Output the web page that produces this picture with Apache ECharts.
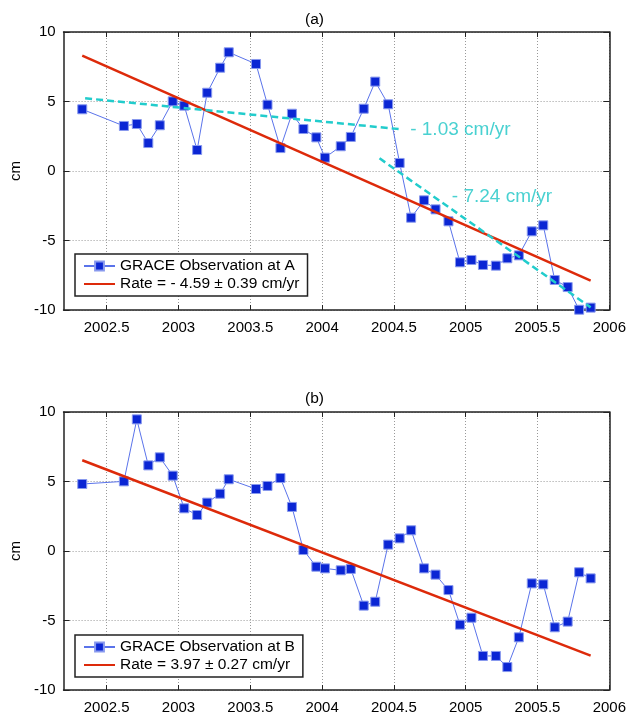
<!DOCTYPE html>
<html>
<head>
<meta charset="utf-8">
<script src="https://cdn.jsdelivr.net/npm/echarts@6/dist/echarts.min.js"></script>
<style>body{margin:0;background:#fff;}</style>
</head>
<body>
<div id="main" style="width:629px;height:719px;"></div>
<script>
// sample times (decimal year), shared by both panels
var times = [2002.33, 2002.62, 2002.71, 2002.79, 2002.87, 2002.96, 2003.04, 2003.13, 2003.20, 2003.29,
             2003.35, 2003.54, 2003.62, 2003.71, 2003.79, 2003.87, 2003.96, 2004.02, 2004.13, 2004.20,
             2004.29, 2004.37, 2004.46, 2004.54, 2004.62, 2004.71, 2004.79, 2004.88, 2004.96, 2005.04,
             2005.12, 2005.21, 2005.29, 2005.37, 2005.46, 2005.54, 2005.62, 2005.71, 2005.79, 2005.87];
// GRACE observations (cm)
var obsA = [4.44, 3.24, 3.38, 2.01, 3.29, 5.01, 4.70, 1.51, 5.63, 7.43,
            8.54, 7.70, 4.77, 1.65, 4.12, 3.02, 2.42, 0.96, 1.78, 2.45,
            4.48, 6.43, 4.80, 0.58, -3.36, -2.11, -2.76, -3.62, -6.57, -6.40,
            -6.76, -6.81, -6.28, -6.07, -4.34, -3.91, -7.84, -8.35, -9.98, -9.83];
var obsB = [4.82, 5.01, 9.47, 6.16, 6.74, 5.42, 3.07, 2.59, 3.48, 4.12,
            5.16, 4.46, 4.68, 5.25, 3.17, 0.07, -1.13, -1.25, -1.39, -1.29,
            -3.93, -3.65, 0.46, 0.91, 1.49, -1.25, -1.70, -2.81, -5.30, -4.80,
            -7.55, -7.55, -8.35, -6.21, -2.33, -2.40, -5.49, -5.08, -1.53, -1.97];
// fitted rate lines (end points)
var fitA = [[2002.33, 8.30], [2005.87, -7.89]];
var fitB = [[2002.33, 6.53], [2005.87, -7.53]];
// partial trends in panel (a)
var trendA1 = [[2002.35, 5.23], [2004.55, 3.00]];
var trendA2 = [[2004.40, 0.91], [2005.87, -9.81]];
var trendNotes = [
    { name: '- 1.03 cm/yr', value: [2004.61, 2.95] },
    { name: '- 7.24 cm/yr', value: [2004.90, -1.88] }
];
var xTicks = [2002.5, 2003, 2003.5, 2004, 2004.5, 2005, 2005.5, 2006];

var nameObsA = 'GRACE Observation at A';
var nameFitA = 'Rate = - 4.59 ± 0.39 cm/yr';
var nameObsB = 'GRACE Observation at B';
var nameFitB = 'Rate = 3.97 ± 0.27 cm/yr';

var frame = { color: '#222', width: 1.5 };
var grid = { color: '#999', width: 1, type: [1, 2] };

function xAxisFor(gi, top) {
    return {
        type: 'value', gridIndex: gi, position: top ? 'top' : 'bottom',
        min: 2002.2, max: 2006,
        axisLine: { show: true, onZero: false, lineStyle: frame },
        axisTick: { show: true, inside: true, length: 5, customValues: xTicks, lineStyle: { color: '#222' } },
        axisLabel: {
            show: !top, customValues: xTicks, margin: 10, fontSize: 15, color: '#000',
            formatter: function (v) { return String(v); }
        },
        splitLine: { show: !top, lineStyle: grid }
    };
}
function yAxisFor(gi, right) {
    return {
        type: 'value', gridIndex: gi, position: right ? 'right' : 'left',
        min: -10, max: 10, interval: 5,
        name: right ? '' : 'cm', nameLocation: 'middle', nameRotate: 90, nameGap: 38,
        nameTextStyle: { fontSize: 15, color: '#000' },
        axisLine: { show: true, onZero: false, lineStyle: frame },
        axisTick: { show: true, inside: true, length: 6, lineStyle: { color: '#222' } },
        axisLabel: { show: !right, margin: 8, fontSize: 15, color: '#000' },
        splitLine: { show: !right, lineStyle: grid }
    };
}
function pairs(vals) {
    return times.map(function (t, i) { return [t, vals[i]]; });
}
function obsSeries(name, vals, ai) {
    return {
        name: name, type: 'line', xAxisIndex: ai, yAxisIndex: ai, z: 2,
        data: pairs(vals), symbol: 'rect', symbolSize: 9, showAllSymbol: true,
        itemStyle: { color: '#0b26d4', borderColor: '#8899ee', borderWidth: 1 },
        lineStyle: { color: '#5a73ea', width: 1 }
    };
}
function fitSeries(name, pts, ai) {
    return {
        name: name, type: 'line', xAxisIndex: ai, yAxisIndex: ai, z: 3,
        data: pts, symbol: 'none',
        itemStyle: { color: '#dd2a0a' },
        lineStyle: { color: '#dd2a0a', width: 2.5 }
    };
}
function trendSeries(pts) {
    return {
        name: 'trend', type: 'line', xAxisIndex: 0, yAxisIndex: 0, z: 4,
        data: pts, symbol: 'none',
        lineStyle: { color: '#22cccc', width: 2.5, type: [7, 4] }
    };
}
function legendFor(obsName, fitName, top) {
    return {
        data: [
            { name: obsName },
            { name: fitName, itemStyle: { color: 'transparent', borderColor: 'transparent', borderWidth: 0 } }
        ],
        orient: 'vertical', left: 75, top: top,
        selectedMode: false, itemWidth: 31, itemHeight: 11, itemGap: 2,
        padding: [4, 8, 4, 8], borderColor: '#222', borderWidth: 1.5, backgroundColor: '#fff',
        textStyle: { fontSize: 15.5, color: '#000' }
    };
}

var myChart = echarts.init(document.getElementById('main'));
var option = {
    animation: false,
    textStyle: { fontFamily: 'Liberation Sans, Arial, sans-serif' },
    title: [
        { text: '(a)', left: 'center', top: 7, textStyle: { fontSize: 15.5, fontWeight: 'normal', color: '#000' } },
        { text: '(b)', left: 'center', top: 386, textStyle: { fontSize: 15.5, fontWeight: 'normal', color: '#000' } }
    ],
    grid: [
        { left: 62, right: 18.5, top: 32, height: 278 },
        { left: 62, right: 18.5, top: 412, height: 278 }
    ],
    xAxis: [xAxisFor(0, false), xAxisFor(0, true), xAxisFor(1, false), xAxisFor(1, true)],
    yAxis: [yAxisFor(0, false), yAxisFor(0, true), yAxisFor(1, false), yAxisFor(1, true)],
    legend: [legendFor(nameObsA, nameFitA, 254), legendFor(nameObsB, nameFitB, 635)],
    series: [
        obsSeries(nameObsA, obsA, 0),
        fitSeries(nameFitA, fitA, 0),
        trendSeries(trendA1),
        trendSeries(trendA2),
        {
            name: 'notes', type: 'scatter', xAxisIndex: 0, yAxisIndex: 0, z: 5,
            data: trendNotes, symbolSize: 1, itemStyle: { color: 'transparent' },
            label: { show: true, position: 'right', distance: 0, formatter: '{b}', color: '#1cc6c6', fontSize: 19 }
        },
        obsSeries(nameObsB, obsB, 2),
        fitSeries(nameFitB, fitB, 2)
    ]
};
myChart.setOption(option);
</script>
</body>
</html>
